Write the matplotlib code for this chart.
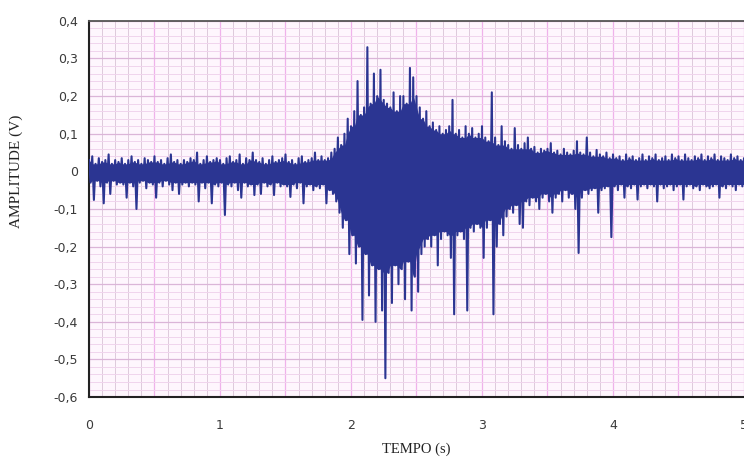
import numpy as np
import matplotlib
matplotlib.use("Agg")
import matplotlib.pyplot as plt
from matplotlib.ticker import MultipleLocator, FuncFormatter

# envelope of the record, one pair (upper, lower) every 0.025 s
step = 0.025
upper = [
    0.03, 0.04, 0.02, 0.035, 0.025, 0.03, 0.045, 0.02, 0.03, 0.025,
    0.035, 0.02, 0.03, 0.04, 0.025, 0.03, 0.02, 0.035, 0.03, 0.025,
    0.04, 0.025, 0.03, 0.02, 0.035, 0.045, 0.025, 0.03, 0.02, 0.03,
    0.025, 0.035, 0.03, 0.05, 0.02, 0.03, 0.04, 0.025, 0.03, 0.035,
    0.03, 0.02, 0.035, 0.04, 0.025, 0.03, 0.045, 0.02, 0.035, 0.03,
    0.05, 0.03, 0.025, 0.035, 0.02, 0.03, 0.04, 0.025, 0.03, 0.035,
    0.045, 0.025, 0.03, 0.02, 0.035, 0.04, 0.025, 0.03, 0.035, 0.05,
    0.03, 0.04, 0.03, 0.035, 0.05, 0.06, 0.09, 0.07, 0.1, 0.14,
    0.12, 0.16, 0.24, 0.15, 0.17, 0.33, 0.18, 0.26, 0.2, 0.27,
    0.19, 0.18, 0.17, 0.21, 0.16, 0.2, 0.2, 0.18, 0.275, 0.25,
    0.2, 0.17, 0.14, 0.16, 0.12, 0.13, 0.11, 0.12, 0.1, 0.11,
    0.12, 0.19, 0.1, 0.11, 0.09, 0.12, 0.1, 0.115, 0.09, 0.1,
    0.12, 0.09, 0.08, 0.21, 0.09, 0.07, 0.12, 0.08, 0.07, 0.06,
    0.115, 0.07, 0.06, 0.075, 0.09, 0.06, 0.065, 0.05, 0.06, 0.055,
    0.06, 0.075, 0.05, 0.055, 0.045, 0.06, 0.05, 0.045, 0.055, 0.08,
    0.05, 0.045, 0.09, 0.05, 0.04, 0.057, 0.045, 0.04, 0.05, 0.035,
    0.045, 0.035, 0.04, 0.03, 0.045, 0.035, 0.04, 0.03, 0.035, 0.045,
    0.03, 0.04, 0.035, 0.045, 0.03, 0.035, 0.04, 0.03, 0.045, 0.035,
    0.04, 0.03, 0.045, 0.035, 0.03, 0.04, 0.035, 0.045, 0.03, 0.04,
    0.035, 0.045, 0.03, 0.04, 0.035, 0.03, 0.045, 0.035, 0.04, 0.03,
    0.035,
]
lower = [
    -0.03, -0.076, -0.025, -0.04, -0.085, -0.03, -0.06, -0.025, -0.035, -0.03,
    -0.035, -0.07, -0.03, -0.04, -0.1, -0.03, -0.025, -0.045, -0.03, -0.035,
    -0.07, -0.03, -0.04, -0.025, -0.035, -0.05, -0.03, -0.06, -0.035, -0.03,
    -0.04, -0.03, -0.035, -0.08, -0.03, -0.045, -0.03, -0.085, -0.035, -0.04,
    -0.03, -0.116, -0.035, -0.04, -0.03, -0.05, -0.07, -0.03, -0.04, -0.035,
    -0.063, -0.035, -0.06, -0.03, -0.04, -0.035, -0.063, -0.03, -0.04, -0.035,
    -0.04, -0.068, -0.035, -0.045, -0.03, -0.085, -0.04, -0.035, -0.05, -0.04,
    -0.045, -0.035, -0.085, -0.05, -0.06, -0.08, -0.11, -0.15, -0.13, -0.22,
    -0.17, -0.245, -0.2, -0.395, -0.22, -0.33, -0.25, -0.4, -0.26, -0.37,
    -0.55, -0.27, -0.35, -0.25, -0.3, -0.26, -0.34, -0.24, -0.37, -0.28,
    -0.32, -0.22, -0.2, -0.18, -0.2, -0.17, -0.25, -0.18, -0.16, -0.17,
    -0.23, -0.38, -0.17, -0.16, -0.18, -0.37, -0.15, -0.16, -0.14, -0.15,
    -0.23, -0.15, -0.13, -0.38, -0.2, -0.14, -0.17, -0.12, -0.1, -0.11,
    -0.09, -0.14, -0.15, -0.08, -0.09, -0.07, -0.08, -0.1, -0.07, -0.06,
    -0.08, -0.11, -0.07, -0.06, -0.08, -0.05, -0.07, -0.06, -0.1, -0.217,
    -0.07, -0.05, -0.06, -0.05, -0.045, -0.11, -0.05, -0.045, -0.04, -0.175,
    -0.04, -0.05, -0.035, -0.07, -0.04, -0.045, -0.035, -0.075, -0.04, -0.035,
    -0.045, -0.035, -0.04, -0.08, -0.035, -0.045, -0.04, -0.035, -0.05, -0.04,
    -0.035, -0.075, -0.04, -0.035, -0.045, -0.04, -0.05, -0.035, -0.04, -0.045,
    -0.04, -0.035, -0.07, -0.04, -0.045, -0.035, -0.04, -0.05, -0.035, -0.04,
    -0.035,
]

up = np.array(upper)
lo = np.array(lower)

# zigzag between the upper and lower values, like the raw trace
t_up = np.arange(len(up)) * step
t_lo = t_up + step / 2
t = np.column_stack([t_up, t_lo]).ravel()
v = np.column_stack([up, lo]).ravel()

# solid core of the trace: the smallest swing among neighbouring samples
pad_up = np.pad(up, 1, mode="edge")
pad_lo = np.pad(lo, 1, mode="edge")
core_up = np.minimum(np.minimum(pad_up[:-2], pad_up[1:-1]), pad_up[2:])
core_lo = np.maximum(np.maximum(pad_lo[:-2], pad_lo[1:-1]), pad_lo[2:])

fig = plt.figure(figsize=(7.44, 4.59), dpi=100)
ax = fig.add_axes([0.1196, 0.135, 0.8804, 0.8195])
ax.set_facecolor("#fef6fd")

navy = "#2b3592"
ax.fill_between(t_up, core_lo, core_up, color=navy, lw=0, zorder=2)
ax.plot(t, v, color=navy, lw=1.5, zorder=3)

ax.set_xlim(0, 5)
ax.set_ylim(-0.6, 0.4)
ax.xaxis.set_major_locator(MultipleLocator(1))
ax.yaxis.set_major_locator(MultipleLocator(0.1))

# grid lines drawn by hand so that 0.5 s lines are pink too
for x in np.arange(0, 5.01, 0.1):
    major = abs(x * 2 - round(x * 2)) < 1e-6
    ax.axvline(x, color="#efb2eb" if major else "#ddcadb", lw=0.9 if major else 0.7, zorder=0)
for y in np.arange(-0.6, 0.401, 0.02):
    major = abs(y * 10 - round(y * 10)) < 1e-6
    ax.axhline(y, color="#dbb5d8" if major else "#f0d4ed", lw=0.9 if major else 0.7, zorder=0)

fmt = FuncFormatter(lambda val, pos: ("%g" % round(val, 2)).replace(".", ","))
ax.xaxis.set_major_formatter(fmt)
ax.yaxis.set_major_formatter(fmt)
ax.tick_params(which="both", length=0)
ax.tick_params(axis="x", pad=16, labelsize=9, labelcolor="#3a3a3a")
ax.tick_params(axis="y", pad=8, labelsize=9, labelcolor="#3a3a3a")

ax.spines["right"].set_visible(False)
ax.spines["top"].set_color("#555555")
ax.spines["top"].set_linewidth(1.3)
ax.spines["left"].set_linewidth(1.5)
ax.spines["bottom"].set_linewidth(1.5)
ax.spines["left"].set_color("#222222")
ax.spines["bottom"].set_color("#222222")

ax.set_xlabel("TEMPO (s)", family="Liberation Serif", fontsize=10.5, color="#222222")
ax.set_ylabel("AMPLITUDE (V)", family="Liberation Serif", fontsize=11, color="#222222")
ax.xaxis.set_label_coords(0.5, -0.122)
ax.yaxis.set_label_coords(-0.1, 0.6)

plt.savefig("out.png", dpi=100)
